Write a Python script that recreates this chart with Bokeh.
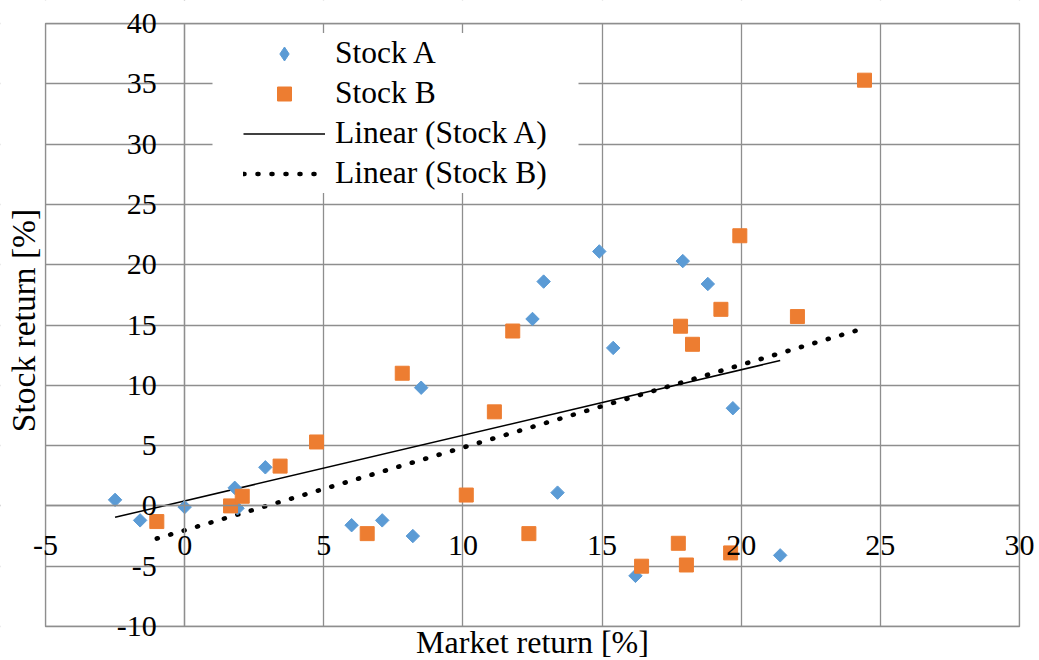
import numpy as np
from bokeh.plotting import figure
from bokeh.models import (Range1d, FixedTicker, Legend, LegendItem, Label,
                          LabelSet, ColumnDataSource, BoxAnnotation)
from bokeh.core.properties import value
from bokeh.embed import file_html
from bokeh.resources import INLINE

# ---- data ----
stock_a_market = [-2.5, -1.6, 0.0, 1.8, 1.9, 2.9, 6.0, 7.1, 8.2, 8.5,
                  12.5, 12.9, 13.4, 14.9, 15.4, 16.2, 17.9, 18.8, 19.7, 21.4]
stock_a_return = [0.5, -1.2, -0.1, 1.5, -0.2, 3.2, -1.6, -1.2, -2.5, 9.8,
                  15.5, 18.6, 1.1, 21.1, 13.1, -5.8, 20.3, 18.4, 8.1, -4.1]
stock_b_market = [-1.0, 1.65, 2.07, 3.43, 4.74, 6.56, 7.82, 10.12, 11.13, 11.79,
                  12.37, 16.42, 17.74, 17.82, 18.03, 18.25, 19.27, 19.62, 19.95, 22.02, 24.43]
stock_b_return = [-1.3, 0.0, 0.8, 3.3, 5.3, -2.3, 11.0, 0.9, 7.8, 14.5,
                  -2.3, -5.0, -3.1, 14.9, -4.9, 13.4, 16.3, -3.9, 22.4, 15.7, 35.3]
x_ticks = [-5, 0, 5, 10, 15, 20, 25, 30]
y_ticks = [-10, -5, 0, 5, 10, 15, 20, 25, 30, 35, 40]
series_names = ["Stock A", "Stock B", "Linear (Stock A)", "Linear (Stock B)"]
x_title = "Market return [%]"
y_title = "Stock return [%]"

# ---- layout / style ----
W, H = 1039, 660
BOX_L, BOX_R, BOX_T, BOX_B = 45, 1019, 23, 626      # plot box in pixels
LEG_L, LEG_R, LEG_T, LEG_B = 212, 578, 35, 192      # legend box in pixels
FONT = "Liberation Serif"
GRID = "#8e8e8e"
BLUE = "#5B9BD5"
ORANGE = "#ED7D31"

x0, x1 = x_ticks[0], x_ticks[-1]
y0, y1 = y_ticks[0], y_ticks[-1]
px = (BOX_R - BOX_L) / (x1 - x0)
py = (BOX_B - BOX_T) / (y1 - y0)
x_range = Range1d(x0 - BOX_L / px, x1 + (W - BOX_R) / px)
y_range = Range1d(y0 - (H - BOX_B) / py, y1 + BOX_T / py)

def to_x(sx):   # pixel column -> data x
    return x0 + (sx - BOX_L) / px

def to_y(sy):   # pixel row -> data y
    return y1 - (sy - BOX_T) / py

p = figure(width=W, height=H, x_range=x_range, y_range=y_range,
           output_backend="svg", toolbar_location=None, min_border=0)
p.background_fill_color = "white"
p.border_fill_color = "white"
p.outline_line_color = None

# axes crossing at zero (lines only; tick labels are drawn below)
for ax in (p.xaxis[0], p.yaxis[0]):
    ax.ticker = FixedTicker(ticks=[])
    ax.fixed_location = 0
    ax.axis_line_color = GRID
    ax.axis_line_width = 1.3
    ax.major_tick_in = ax.major_tick_out = 0
    ax.minor_tick_in = ax.minor_tick_out = 0

p.xgrid.ticker = FixedTicker(ticks=x_ticks)
p.ygrid.ticker = FixedTicker(ticks=y_ticks)
for g in (p.xgrid[0], p.ygrid[0]):
    g.grid_line_color = GRID
    g.grid_line_width = 1.3

# trend lines (least squares fits of each series)
def trend(xs, ys):
    k, b = np.polyfit(xs, ys, 1)
    xx = np.array([min(xs), max(xs)])
    return xx, k * xx + b

ta_x, ta_y = trend(stock_a_market, stock_a_return)
tb_x, tb_y = trend(stock_b_market, stock_b_return)

r_la = p.line(ta_x, ta_y, line_color="black", line_width=1.5)
r_lb = p.line(tb_x, tb_y, line_color="black", line_width=4.6,
              line_dash="1 13", line_cap="round")
r_a = p.scatter(stock_a_market, stock_a_return, marker="square", angle=np.pi / 4,
                size=9.5, fill_color=BLUE, line_color=BLUE)
r_b = p.scatter(stock_b_market, stock_b_return, marker="square",
                size=14, fill_color=ORANGE, line_color=ORANGE)
# legend key for the diamonds (a point with no position: draws nothing)
r_a_key = p.scatter(x=[np.nan], y=[np.nan], marker="diamond",
                    fill_color=BLUE, line_color=BLUE)

# white margins outside the plot box, then the box outline
for kw in (dict(right=x0), dict(left=x1), dict(top=y0), dict(bottom=y1)):
    p.add_layout(BoxAnnotation(fill_color="white", fill_alpha=1.0,
                               line_alpha=0, **kw))
p.add_layout(BoxAnnotation(left=x0, right=x1, bottom=y0, top=y1,
                           fill_alpha=0, line_color=GRID, line_width=1.3,
                           line_alpha=1.0))

# legend background (white box behind the legend)
p.add_layout(BoxAnnotation(left=to_x(LEG_L), right=to_x(LEG_R),
                           top=to_y(LEG_T), bottom=to_y(LEG_B),
                           fill_color="white", fill_alpha=1.0, line_alpha=0))

legend = Legend(items=[LegendItem(label=series_names[0], renderers=[r_a_key]),
                       LegendItem(label=series_names[1], renderers=[r_b]),
                       LegendItem(label=series_names[2], renderers=[r_la]),
                       LegendItem(label=series_names[3], renderers=[r_lb])],
                location=(243, H - 193), orientation="vertical",
                padding=0, margin=0, spacing=0,
                glyph_width=82, glyph_height=35, label_height=40,
                label_standoff=10,
                label_text_font=FONT, label_text_font_size="31.5px",
                label_text_color="black",
                border_line_alpha=0, background_fill_color="white",
                background_fill_alpha=1.0)
p.add_layout(legend, "center")

# tick labels at the zero crossing
xlab = ColumnDataSource(dict(x=x_ticks, y=[0] * len(x_ticks),
                             t=[str(v) for v in x_ticks]))
ylab = ColumnDataSource(dict(x=[0] * len(y_ticks), y=y_ticks,
                             t=[str(v) for v in y_ticks]))
p.add_layout(LabelSet(x="x", y="y", text="t", source=xlab, y_offset=-40,
                      text_align="center", text_baseline="middle",
                      text_font=value(FONT), text_font_size=value("30px"),
                      text_color="black"))
p.add_layout(LabelSet(x="x", y="y", text="t", source=ylab, x_offset=-28,
                      text_align="right", text_baseline="middle",
                      text_font=value(FONT), text_font_size=value("30px"),
                      text_color="black"))

# axis titles
p.add_layout(Label(x=(BOX_L + BOX_R) / 2, y=H - 641.5, x_units="screen", y_units="screen",
                   text=x_title, text_align="center", text_baseline="middle",
                   text_font=FONT, text_font_size="32px", text_color="black"))
p.add_layout(Label(x=23, y=H - 320, x_units="screen", y_units="screen",
                   text=y_title, angle=np.pi / 2, text_align="center",
                   text_baseline="middle",
                   text_font=FONT, text_font_size="33.5px", text_color="black"))

open("out.html", "w").write(file_html(p, INLINE))
